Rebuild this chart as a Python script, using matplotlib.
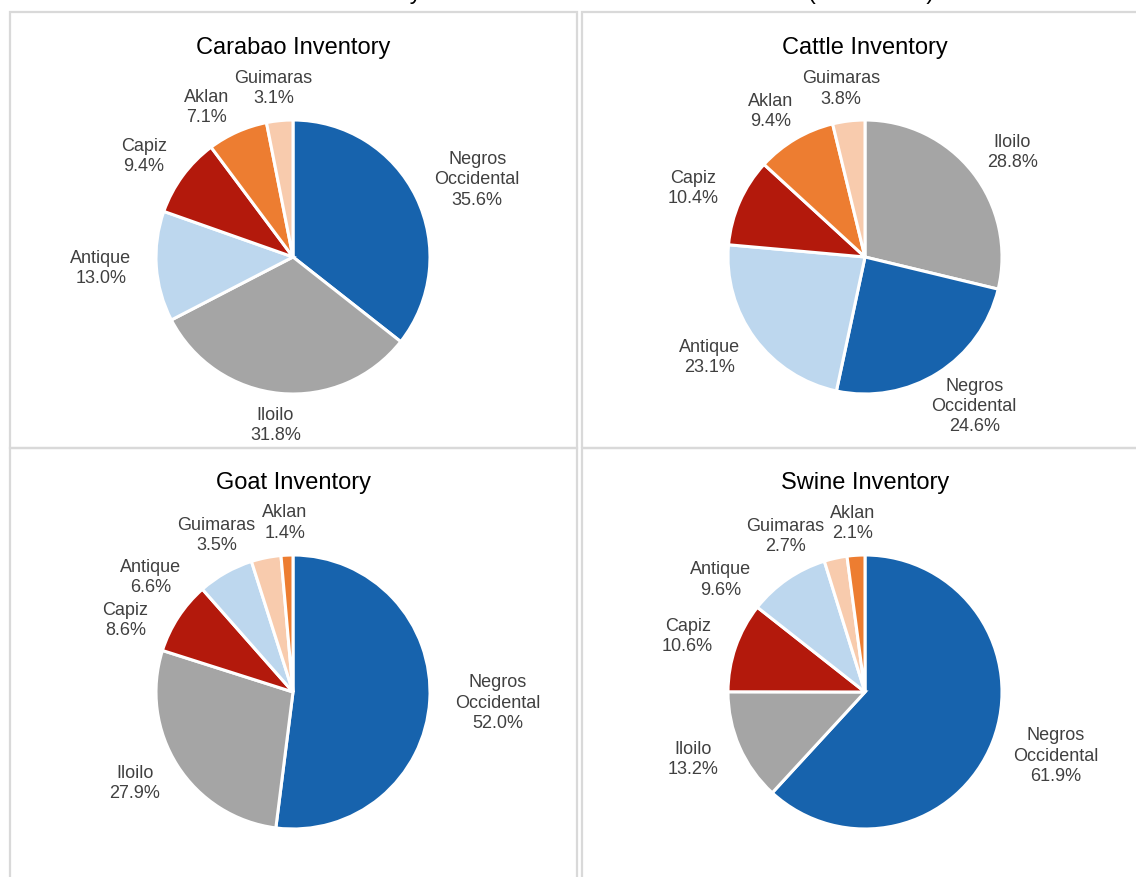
import numpy as np
import matplotlib
matplotlib.use("Agg")
import matplotlib.pyplot as plt
from matplotlib.patches import Rectangle

plt.rcParams['font.family'] = ['Liberation Sans', 'DejaVu Sans']

# ---- data (percent share by province) ----
carabao_labels = ["Negros\nOccidental", "Iloilo", "Antique", "Capiz", "Aklan", "Guimaras"]
carabao_values = [35.6, 31.8, 13.0, 9.4, 7.1, 3.1]

cattle_labels = ["Iloilo", "Negros\nOccidental", "Antique", "Capiz", "Aklan", "Guimaras"]
cattle_values = [28.8, 24.6, 23.1, 10.4, 9.4, 3.8]

goat_labels = ["Negros\nOccidental", "Iloilo", "Capiz", "Antique", "Guimaras", "Aklan"]
goat_values = [52.0, 27.9, 8.6, 6.6, 3.5, 1.4]

swine_labels = ["Negros\nOccidental", "Iloilo", "Capiz", "Antique", "Guimaras", "Aklan"]
swine_values = [61.9, 13.2, 10.6, 9.6, 2.7, 2.1]

province_colors = {
    "Negros\nOccidental": "#1763AD",
    "Iloilo": "#A5A5A5",
    "Antique": "#BDD7EE",
    "Capiz": "#B3190C",
    "Aklan": "#ED7D31",
    "Guimaras": "#F8CBAD",
}

W, H = 1136, 877
R = 137.0  # pie radius in pixels

fig = plt.figure(figsize=(W / 100, H / 100), dpi=100)

# panel borders
border = "#D9D9D9"
for (x0, y0, x1, y1) in [(10, 12, 577, 448), (582, 12, 1140, 448),
                         (10, 448, 577, 880), (582, 448, 1140, 880)]:
    fig.add_artist(Rectangle((x0 / W, 1 - y1 / H), (x1 - x0) / W, (y1 - y0) / H,
                             transform=fig.transFigure, fill=False,
                             edgecolor=border, linewidth=1.6))

# overall title, mostly cut off at the top like the source
fig.text(577 / W, 1 + 1 / H, "Livestock Inventory Share of the Six Western Provinces (as of 2021)",
         ha="center", va="baseline", fontsize=17, color="#000000")

panels = [
    ("Carabao Inventory", carabao_labels, carabao_values, (293, 257)),
    ("Cattle Inventory", cattle_labels, cattle_values, (865, 257)),
    ("Goat Inventory", goat_labels, goat_values, (293, 692)),
    ("Swine Inventory", swine_labels, swine_values, (865, 692)),
]

L = 2.0  # half-width of each axes in pie radii
panel_labels = []
for title, labels, values, (cx, cy) in panels:
    side = 2 * L * R
    ax = fig.add_axes([(cx - side / 2) / W, (H - cy - side / 2) / H, side / W, side / H])
    wedges, _ = ax.pie(values, colors=[province_colors[l] for l in labels],
                       startangle=90, counterclock=False, radius=1.0,
                       wedgeprops=dict(edgecolor="white", linewidth=2.2))
    ax.set_xlim(-L, L)
    ax.set_ylim(-L, L)
    ax.set_aspect("equal")
    ax.axis("off")
    # panel title
    ax.text(0, 209 / R, title, ha="center", va="center",
            fontsize=17, color="#000000")
    items = []
    for w, lab, v in zip(wedges, labels, values):
        ang = (w.theta1 + w.theta2) / 2
        t = ax.text(0, 0, f"{lab}\n{v:.1f}%", ha="center", va="center",
                    fontsize=13, color="#404040", linespacing=1.24,
                    multialignment="center", clip_on=False)
        items.append([t, ang])
    panel_labels.append(items)

fig.canvas.draw()
renderer = fig.canvas.get_renderer()


def place(ang_deg, w, h, d=1.14, pad=6 / R):
    a = np.deg2rad(ang_deg)
    x = d * np.cos(a) + (0.5 * w + pad) * np.cos(a)
    y = d * np.sin(a) + 0.35 * h * np.sin(a)
    return x, y


def overlaps(b1, b2, gap=4 / R):
    return not (b1[2] + gap < b2[0] or b2[2] + gap < b1[0] or
                b1[3] + gap < b2[1] or b2[3] + gap < b1[1])


for items in panel_labels:
    placed = []
    # last (small) slices sit next to 12 o'clock; push earlier labels
    # further round the pie until they clear the ones already placed
    for t, ang in reversed(items):
        bb = t.get_window_extent(renderer)
        w, h = bb.width / R, bb.height / R
        for step in range(60):
            x, y = place(ang, w, h)
            box = (x - w / 2, y - h / 2, x + w / 2, y + h / 2)
            if not any(overlaps(box, p) for p in placed):
                break
            ang += 1.0
        placed.append(box)
        t.set_position((x, y))

fig.savefig("out.png", dpi=100)
